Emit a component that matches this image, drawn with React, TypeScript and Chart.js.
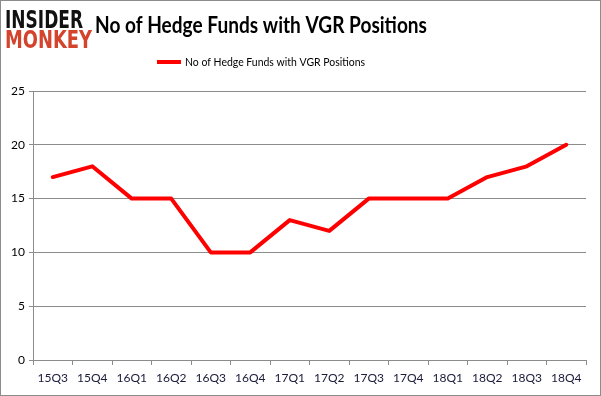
import React, { useEffect, useRef } from "react";
import { Chart, registerables } from "chart.js";

Chart.register(...registerables);

const categories = ["15Q3", "15Q4", "16Q1", "16Q2", "16Q3", "16Q4", "17Q1", "17Q2", "17Q3", "17Q4", "18Q1", "18Q2", "18Q3", "18Q4"];
const hedgeFunds = [17, 18, 15, 15, 10, 10, 13, 12, 15, 15, 15, 17, 18, 20];
const yTicks = [0, 5, 10, 15, 20, 25];
const titleText = "No of Hedge Funds with VGR Positions";
const seriesLabel = "No of Hedge Funds with VGR Positions";

const FONT = "Lato, 'Open Sans', sans-serif";

function fitText(ctx: CanvasRenderingContext2D, text: string, x: number, y: number, width: number) {
  const w = ctx.measureText(text).width;
  ctx.save();
  ctx.translate(x, y);
  ctx.scale(width / w, 1);
  ctx.fillText(text, 0, 0);
  ctx.restore();
}

const decorPlugin = {
  id: "decor",
  beforeDraw(chart: any) {
    const ctx = chart.ctx;
    ctx.save();
    ctx.fillStyle = "#ffffff";
    ctx.fillRect(0, 0, chart.width, chart.height);
    ctx.restore();
  },
  afterDraw(chart: any) {
    const ctx = chart.ctx;
    ctx.save();
    // border
    ctx.strokeStyle = "#8c8c8c";
    ctx.lineWidth = 1;
    ctx.strokeRect(0.5, 0.5, chart.width - 1, chart.height - 1);
    // logo
    ctx.textBaseline = "alphabetic";
    ctx.textAlign = "left";
    ctx.font = "bold 25px 'DejaVu Sans', sans-serif";
    ctx.fillStyle = "#111111";
    fitText(ctx, "INSIDER", 5, 28, 78);
    ctx.fillStyle = "#d4432c";
    fitText(ctx, "MONKEY", 5, 48, 87);
    // title
    ctx.fillStyle = "#000000";
    ctx.font = `bold 22px ${FONT}`;
    ctx.textBaseline = "alphabetic";
    fitText(ctx, titleText, 95, 33, 332);
    // legend
    ctx.strokeStyle = "#ff0000";
    ctx.lineWidth = 4;
    ctx.beginPath();
    ctx.moveTo(157, 62);
    ctx.lineTo(181, 62);
    ctx.stroke();
    ctx.font = `12px ${FONT}`;
    ctx.textBaseline = "middle";
    ctx.fillStyle = "#000000";
    fitText(ctx, seriesLabel, 185, 62, 180);
    ctx.restore();
  },
};

export default function App() {
  const ref = useRef<HTMLCanvasElement | null>(null);
  useEffect(() => {
    if (!ref.current) return;
    const chart = new Chart(ref.current, {
      type: "line",
      data: {
        labels: categories,
        datasets: [
          {
            label: seriesLabel,
            data: hedgeFunds,
            borderColor: "#ff0000",
            backgroundColor: "#ff0000",
            borderWidth: 4,
            pointRadius: 0,
            tension: 0,
            borderJoinStyle: "round",
            borderCapStyle: "round",
          },
        ],
      },
      options: {
        animation: false,
        responsive: false,
        maintainAspectRatio: false,
        layout: { padding: { left: 0, top: 91, right: 15, bottom: 0 } },
        plugins: { legend: { display: false }, title: { display: false }, tooltip: { enabled: false } },
        scales: {
          x: {
            offset: true,
            grid: { display: true, drawOnChartArea: false, drawTicks: true, tickLength: 5, offset: true, color: "#8c8c8c" },
            border: { display: true, color: "#8c8c8c" },
            ticks: { color: "#1a1a3a", font: { family: FONT, size: 12 }, padding: 6, maxRotation: 0, autoSkip: false },
            afterFit(scale: any) {
              scale.height = 36;
            },
          },
          y: {
            min: 0,
            max: 25,
            afterBuildTicks(scale: any) {
              scale.ticks = yTicks.map((v) => ({ value: v }));
            },
            grid: { color: "#8c8c8c", tickLength: 4, drawTicks: true },
            border: { display: true, color: "#8c8c8c" },
            ticks: { color: "#000000", font: { family: FONT, size: 12 }, padding: 4 },
            afterFit(scale: any) {
              scale.width = 33;
            },
          },
        },
      },
      plugins: [decorPlugin],
    });
    return () => chart.destroy();
  }, []);
  return (
    <div style={{ position: "fixed", left: 0, top: 0, width: 601, height: 396 }}>
      <canvas ref={ref} width={601} height={396} style={{ width: 601, height: 396, display: "block" }} />
    </div>
  );
}
